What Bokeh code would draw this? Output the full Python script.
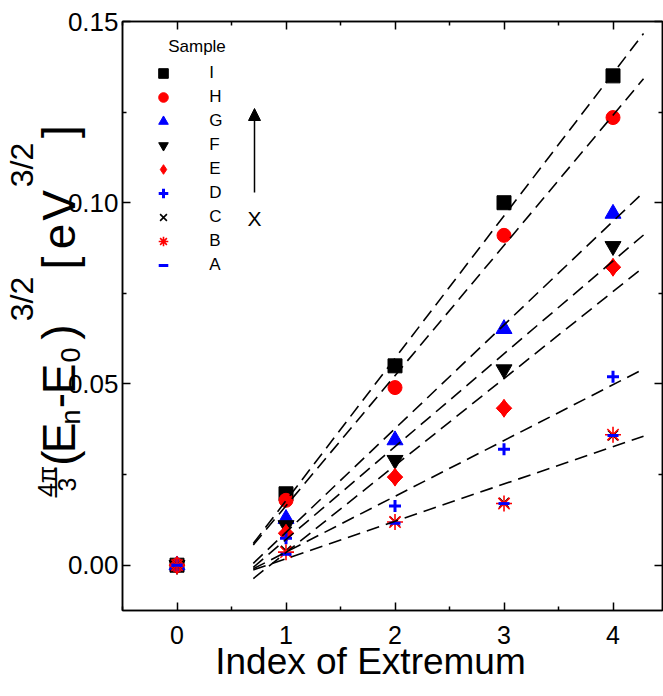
import math
from bokeh.plotting import figure
from bokeh.models import (FixedTicker, LinearAxis, Range1d, Label, Arrow, NormalHead,
                          Legend, LegendItem, CustomJSTickFormatter, NumeralTickFormatter,
                          Column)
from bokeh.embed import file_html
from bokeh.resources import INLINE

# ---------------- data ----------------
x_index = [0, 1, 2, 3, 4]
sample_I = [0.0, 0.0197, 0.0550, 0.1000, 0.1350]
sample_H = [0.0, 0.0179, 0.0490, 0.0910, 0.1235]
sample_G = [0.0, 0.0128, 0.0345, 0.0652, 0.0970]
sample_F = [0.0, 0.0110, 0.0290, 0.0540, 0.0880]
sample_E = [0.0, 0.0088, 0.0243, 0.0433, 0.0822]
sample_D = [0.0, 0.0074, 0.0163, 0.0320, 0.0520]
sample_C = [0.0, 0.0040, 0.0120, 0.0172, 0.0358]
sample_B = [0.0, 0.0036, 0.0119, 0.0170, 0.0360]
sample_A = [0.0, 0.0030, 0.0116, 0.0170, 0.0358]

# dashed fit lines: start / end points
fit_x = [0.70, 4.28]
fit_start = [0.0060, 0.0056, 0.0005, -0.0006, -0.0037, -0.0010, -0.0013]
fit_end = [0.1467, 0.1342, 0.1029, 0.0911, 0.0822, 0.0541, 0.0356]

x_ticks = [0, 1, 2, 3, 4]
x_minor = [-0.5, 0.5, 1.5, 2.5, 3.5]
y_ticks = [0.0, 0.05, 0.10, 0.15]
y_minor = [0.025, 0.075, 0.125]

x_title = "Index of Extremum"
legend_title = "Sample"

FONT = "Liberation Sans"
W, H = 663, 690

p = figure(width=W, height=H,
           x_range=Range1d(-0.5, 4.454), y_range=Range1d(-0.0125, 0.15),
           output_backend="svg", toolbar_location=None,
           min_border_left=122, min_border_top=21, min_border_right=1,
           min_border_bottom=80)
p.xgrid.visible = False
p.ygrid.visible = False
p.outline_line_color = "black"
p.outline_line_width = 1.5
p.background_fill_color = None
p.border_fill_color = None


def style_axis(ax):
    ax.axis_line_width = 1.5
    ax.axis_line_color = "black"
    ax.major_tick_line_width = 1.5
    ax.minor_tick_line_width = 1.5
    ax.major_tick_line_color = "black"
    ax.minor_tick_line_color = "black"
    ax.major_tick_in = 8
    ax.major_tick_out = 0
    ax.minor_tick_in = 4
    ax.minor_tick_out = 0
    ax.major_label_text_color = "black"


p.xaxis.ticker = FixedTicker(ticks=x_ticks, minor_ticks=x_minor)
p.yaxis.ticker = FixedTicker(ticks=y_ticks, minor_ticks=y_minor)
p.yaxis.formatter = NumeralTickFormatter(format="0.00")
for ax in p.xaxis + p.yaxis:
    style_axis(ax)
p.xaxis.major_label_text_font = FONT
p.xaxis.major_label_text_font_size = "25px"
p.xaxis.major_label_standoff = 15
p.yaxis.major_label_text_font = FONT
p.yaxis.major_label_text_font_size = "26px"
p.yaxis.major_label_standoff = 4

blank = CustomJSTickFormatter(code="return ''")
top_ax = LinearAxis(ticker=FixedTicker(ticks=x_ticks, minor_ticks=x_minor), formatter=blank)
right_ax = LinearAxis(ticker=FixedTicker(ticks=y_ticks, minor_ticks=y_minor), formatter=blank)
for ax in (top_ax, right_ax):
    style_axis(ax)
    ax.major_label_text_font_size = "1px"
    ax.major_label_standoff = 0
p.add_layout(top_ax, "above")
p.add_layout(right_ax, "right")

# markers (I drawn first, A last)
specs = [
    ("I", sample_I, "square", "black", 14, 1),
    ("H", sample_H, "circle", "red", 14, 1),
    ("G", sample_G, "triangle", "blue", 16, 1),
    ("F", sample_F, "inverted_triangle", "black", 16, 1),
    ("E", sample_E, "diamond", "red", 18, 1),
    ("D", sample_D, "cross", "blue", 12, 3),
    ("C", sample_C, "x", "black", 14, 1.6),
    ("B", sample_B, "asterisk", "red", 16, 1.6),
    ("A", sample_A, "dash", "blue", 11, 3),
]
items = []
for name, ys, marker, color, size, lw in specs:
    if marker == "diamond":
        # wider diamond body in the plot (rotated square)
        p.scatter(x_index, ys, marker="square", size=11, angle=math.pi / 4,
                  fill_color=color, line_color=color, line_width=lw)
    r = p.scatter(x_index, ys, marker=marker, size=size, fill_color=color,
                  line_color=color, line_width=lw)
    items.append(LegendItem(label=name, renderers=[r]))

# fit lines (drawn over the markers)
for ys, ye in zip(fit_start, fit_end):
    p.line(fit_x, [ys, ye], line_color="black", line_width=1.6, line_dash="13 7")

legend = Legend(items=items, location=(28.3, 332.7),
                label_text_font=FONT, label_text_font_size="17px",
                label_text_color="black",
                glyph_width=26, glyph_height=24, label_height=24,
                spacing=0, padding=0, margin=0, label_standoff=33,
                border_line_color=None, background_fill_alpha=0)
p.add_layout(legend)

# arrow and X annotation (screen units relative to the frame)
FL, FB = 122.0, 610.0  # frame left / bottom in page pixels
p.add_layout(Arrow(end=NormalHead(size=12, fill_color="black", line_color="black"),
                   x_start=254 - FL, y_start=FB - 192, x_end=254 - FL, y_end=FB - 108,
                   start_units="screen", end_units="screen",
                   line_color="black", line_width=1.5))
p.add_layout(Label(x=254 - FL, y=FB - 218, x_units="screen", y_units="screen",
                   text="X", text_font=FONT, text_font_size="21px",
                   text_color="black", text_align="center", text_baseline="middle"))

# ---------------- transparent overlay for the titles ----------------
lf = figure(width=W, height=H, x_range=Range1d(0, 1), y_range=Range1d(0, 1),
            x_axis_type=None, y_axis_type=None, toolbar_location=None,
            output_backend="svg", min_border=0)
lf.outline_line_color = None
lf.background_fill_color = None
lf.border_fill_color = None
lf.margin = (-H, 0, 0, 0)
OX = 0  # horizontal offset of the overlay frame relative to the page
try:
    lf.frame_align = False
except Exception:
    OX = 122

# x-axis title and legend title
lf.add_layout(Label(x=370 - OX, y=H - 661, x_units="screen", y_units="screen",
                    text=x_title, text_font=FONT, text_font_size="37px",
                    text_color="black", text_align="center",
                    text_baseline="middle"))
lf.add_layout(Label(x=196.5 - OX, y=H - 46, x_units="screen", y_units="screen",
                    text=legend_title, text_font=FONT, text_font_size="17px",
                    text_color="black", text_align="center",
                    text_baseline="middle"))

# composite rotated y-axis title
ylabel_parts = [
    # text, glyph-centre x (page), centre y (page), font size
    ("4\u03c0", 46, 481, 25),
    ("\u2014", 53, 482, 30),
    ("3", 66, 484, 25),
    ("(", 58, 457.5, 46),
    ("E", 58, 437.5, 46),
    ("n", 70.3, 416.5, 27),
    ("-", 58, 400, 46),
    ("E", 58, 378.5, 46),
    ("0", 70.3, 354.5, 27),
    (")", 58, 331.5, 46),
    ("3/2", 21.5, 298.5, 32),
    ("[", 58, 262.5, 46),
    ("e", 58, 236, 46),
    ("V", 58, 205, 46),
    ("3/2", 21.5, 164.5, 32),
    ("]", 58, 131, 46),
]
for txt, cx, cy, fs in ylabel_parts:
    lf.add_layout(Label(x=cx - OX, y=H - cy, x_units="screen", y_units="screen",
                        text=txt, angle=math.pi / 2, text_font=FONT,
                        text_font_size=f"{fs}px", text_color="black",
                        text_align="center", text_baseline="middle"))

page = Column(children=[p, lf], spacing=0)
open("out.html", "w").write(file_html(page, INLINE))
